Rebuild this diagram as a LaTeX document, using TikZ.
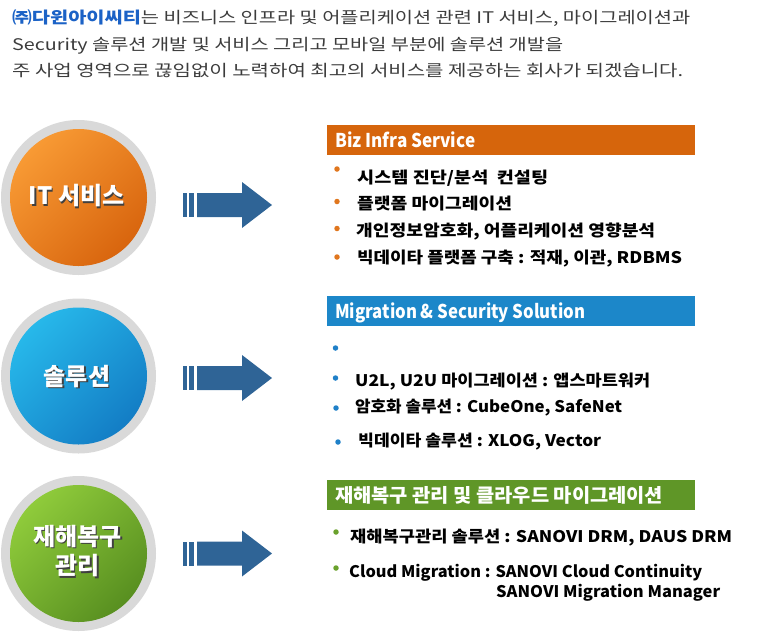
\documentclass[tikz,border=0pt]{standalone}
\usepackage{fontspec}
\usepackage{graphicx}
\newfontfamily\kr{Noto Sans CJK KR}
\definecolor{topgray}{HTML}{3C3C3C}
\definecolor{compblue}{HTML}{1B62C6}
\definecolor{ringgray}{HTML}{D9D9D9}
\definecolor{orlight}{HTML}{F89A34}
\definecolor{ordark}{HTML}{D8650E}
\definecolor{bllight}{HTML}{27B8EA}
\definecolor{bldark}{HTML}{137DC5}
\definecolor{grlight}{HTML}{8FCB3B}
\definecolor{grdark}{HTML}{588F20}
\definecolor{arrowblue}{HTML}{2F6496}
\definecolor{barorange}{HTML}{D6650C}
\definecolor{barblue}{HTML}{1C87C9}
\definecolor{bargreen}{HTML}{5F9627}
\definecolor{dotorange}{HTML}{E0761E}
\definecolor{dotblue}{HTML}{1F80C8}
\definecolor{dotgreen}{HTML}{6AA12C}
\newcommand\fitx[2]{\setbox0\hbox{#2}\pgfmathsetmacro\fxf{#1/\the\wd0}\scalebox{\fxf}[1]{\box0}}
\tikzset{
  toptxt/.style={anchor=base west, inner sep=0, text=topgray, font=\kr\fontsize{16}{19}\selectfont},
  listtxt/.style={anchor=base west, inner sep=0, text=black, font=\kr\bfseries\fontsize{16}{19}\selectfont},
  headtxt/.style={anchor=base west, inner sep=0, text=white, font=\kr\bfseries\fontsize{19}{22}\selectfont},
  circtxt/.style={inner sep=0, text=white, align=center, font=\kr\bfseries\fontsize{24}{29.5}\selectfont},
  circshadow/.style={circtxt, text=black!75},
  ring/.style={fill=ringgray},
  arrowshape/.style={fill=arrowblue},
  headbar/.style={minimum width=368pt, minimum height=30pt, inner sep=0, anchor=north west},
  bdot/.style={circle, inner sep=0, minimum size=5.5pt},
}
\begin{document}
\begin{tikzpicture}[x=1pt,y=-1pt]
\useasboundingbox (0,0) rectangle (780,641);
% top paragraph
\node[toptxt] (t1) at (12,23) {\fitx{678}{{\color{compblue}\bfseries ㈜다윈아이씨티}는 비즈니스 인프라 및 어플리케이션 관련 IT 서비스, 마이그레이션과}};
\node[toptxt] (t2) at (12,50) {\fitx{551}{Security 솔루션 개발 및 서비스 그리고 모바일 부분에 솔루션 개발을}};
\node[toptxt] (t3) at (12,76) {\fitx{671}{주 사업 영역으로 끊임없이 노력하여 최고의 서비스를 제공하는 회사가 되겠습니다.}};

% circles
\foreach \cy/\la/\da/\nm in {197.5/orlight/ordark/c1, 376/bllight/bldark/c2, 553.5/grlight/grdark/c3}{
  \fill[ring] (78.5,\cy) circle (77.5);
  \shade[shading=axis, top color=\la, bottom color=\da, shading angle=45] (78.5,\cy) circle (68.5);
}
\node[circshadow] (c1s) at (78,197.5) {IT 서비스};
\node[circtxt] (c1) at (76.5,196) {IT 서비스};
\node[circshadow] (c2s) at (78.5,378) {솔루션};
\node[circtxt] (c2) at (77,376.5) {솔루션};
\node[circshadow] (c3s) at (79,552.5) {재해복구\\관리};
\node[circtxt] (c3) at (77.5,551) {재해복구\\관리};

% arrows
\foreach \ay in {205,378,553.5}{
  \fill[arrowshape] (183,\ay-12) rectangle (186.5,\ay+12);
  \fill[arrowshape] (189,\ay-12) rectangle (194,\ay+12);
  \fill[arrowshape] (197,\ay-12) -- (242,\ay-12) -- (242,\ay-23) -- (272,\ay) -- (242,\ay+23) -- (242,\ay+12) -- (197,\ay+12) -- cycle;
}

% header bars
\node[headbar, fill=barorange] (h1) at (327,125) {};
\node[headbar, fill=barblue] (h2) at (327,296) {};
\node[headbar, fill=bargreen] (h3) at (327,480) {};
\node[headtxt] (h1t) at (335,147) {\fitx{140}{Biz Infra Service}};
\node[headtxt] (h2t) at (335,318) {\fitx{250}{Migration \& Security Solution}};
\node[headtxt] (h3t) at (335,502) {\fitx{328}{재해복구 관리 및 클라우드 마이그레이션}};

% list 1
\node[bdot, fill=dotorange] (d11) at (337,169) {};
\node[bdot, fill=dotorange] (d12) at (337,201.5) {};
\node[bdot, fill=dotorange] (d13) at (337,228.5) {};
\node[bdot, fill=dotorange] (d14) at (337,257) {};
\node[listtxt] (l11) at (357,183) {\fitx{191}{시스템 진단/분석~~컨설팅}};
\node[listtxt] (l12) at (357,209) {\fitx{155}{플랫폼 마이그레이션}};
\node[listtxt] (l13) at (356,236) {\fitx{299}{개인정보암호화, 어플리케이션 영향분석}};
\node[listtxt] (l14) at (357,263) {\fitx{325}{빅데이타 플랫폼 구축 : 적재, 이관, RDBMS}};

% list 2
\node[bdot, fill=dotblue] (d21) at (335.5,348) {};
\node[bdot, fill=dotblue] (d22) at (335.5,378) {};
\node[bdot, fill=dotblue] (d23) at (336,408) {};
\node[bdot, fill=dotblue] (d24) at (338,442) {};
\node[listtxt] (l22) at (355,386) {\fitx{295}{U2L, U2U 마이그레이션 : 앱스마트워커}};
\node[listtxt] (l23) at (355,412) {\fitx{267}{암호화 솔루션 : CubeOne, SafeNet}};
\node[listtxt] (l24) at (358,446.5) {\fitx{243}{빅데이타 솔루션 : XLOG, Vector}};

% list 3
\node[bdot, fill=dotgreen] (d31) at (336,532) {};
\node[bdot, fill=dotgreen] (d32) at (336,568) {};
\node[listtxt] (l31) at (350,542) {\fitx{382}{재해복구관리 솔루션 : SANOVI DRM, DAUS DRM}};
\node[listtxt] (l32) at (349,577) {\fitx{353}{Cloud Migration : SANOVI Cloud Continuity}};
\node[listtxt] (l33) at (496,597) {\fitx{224}{SANOVI Migration Manager}};
\end{tikzpicture}
\end{document}
